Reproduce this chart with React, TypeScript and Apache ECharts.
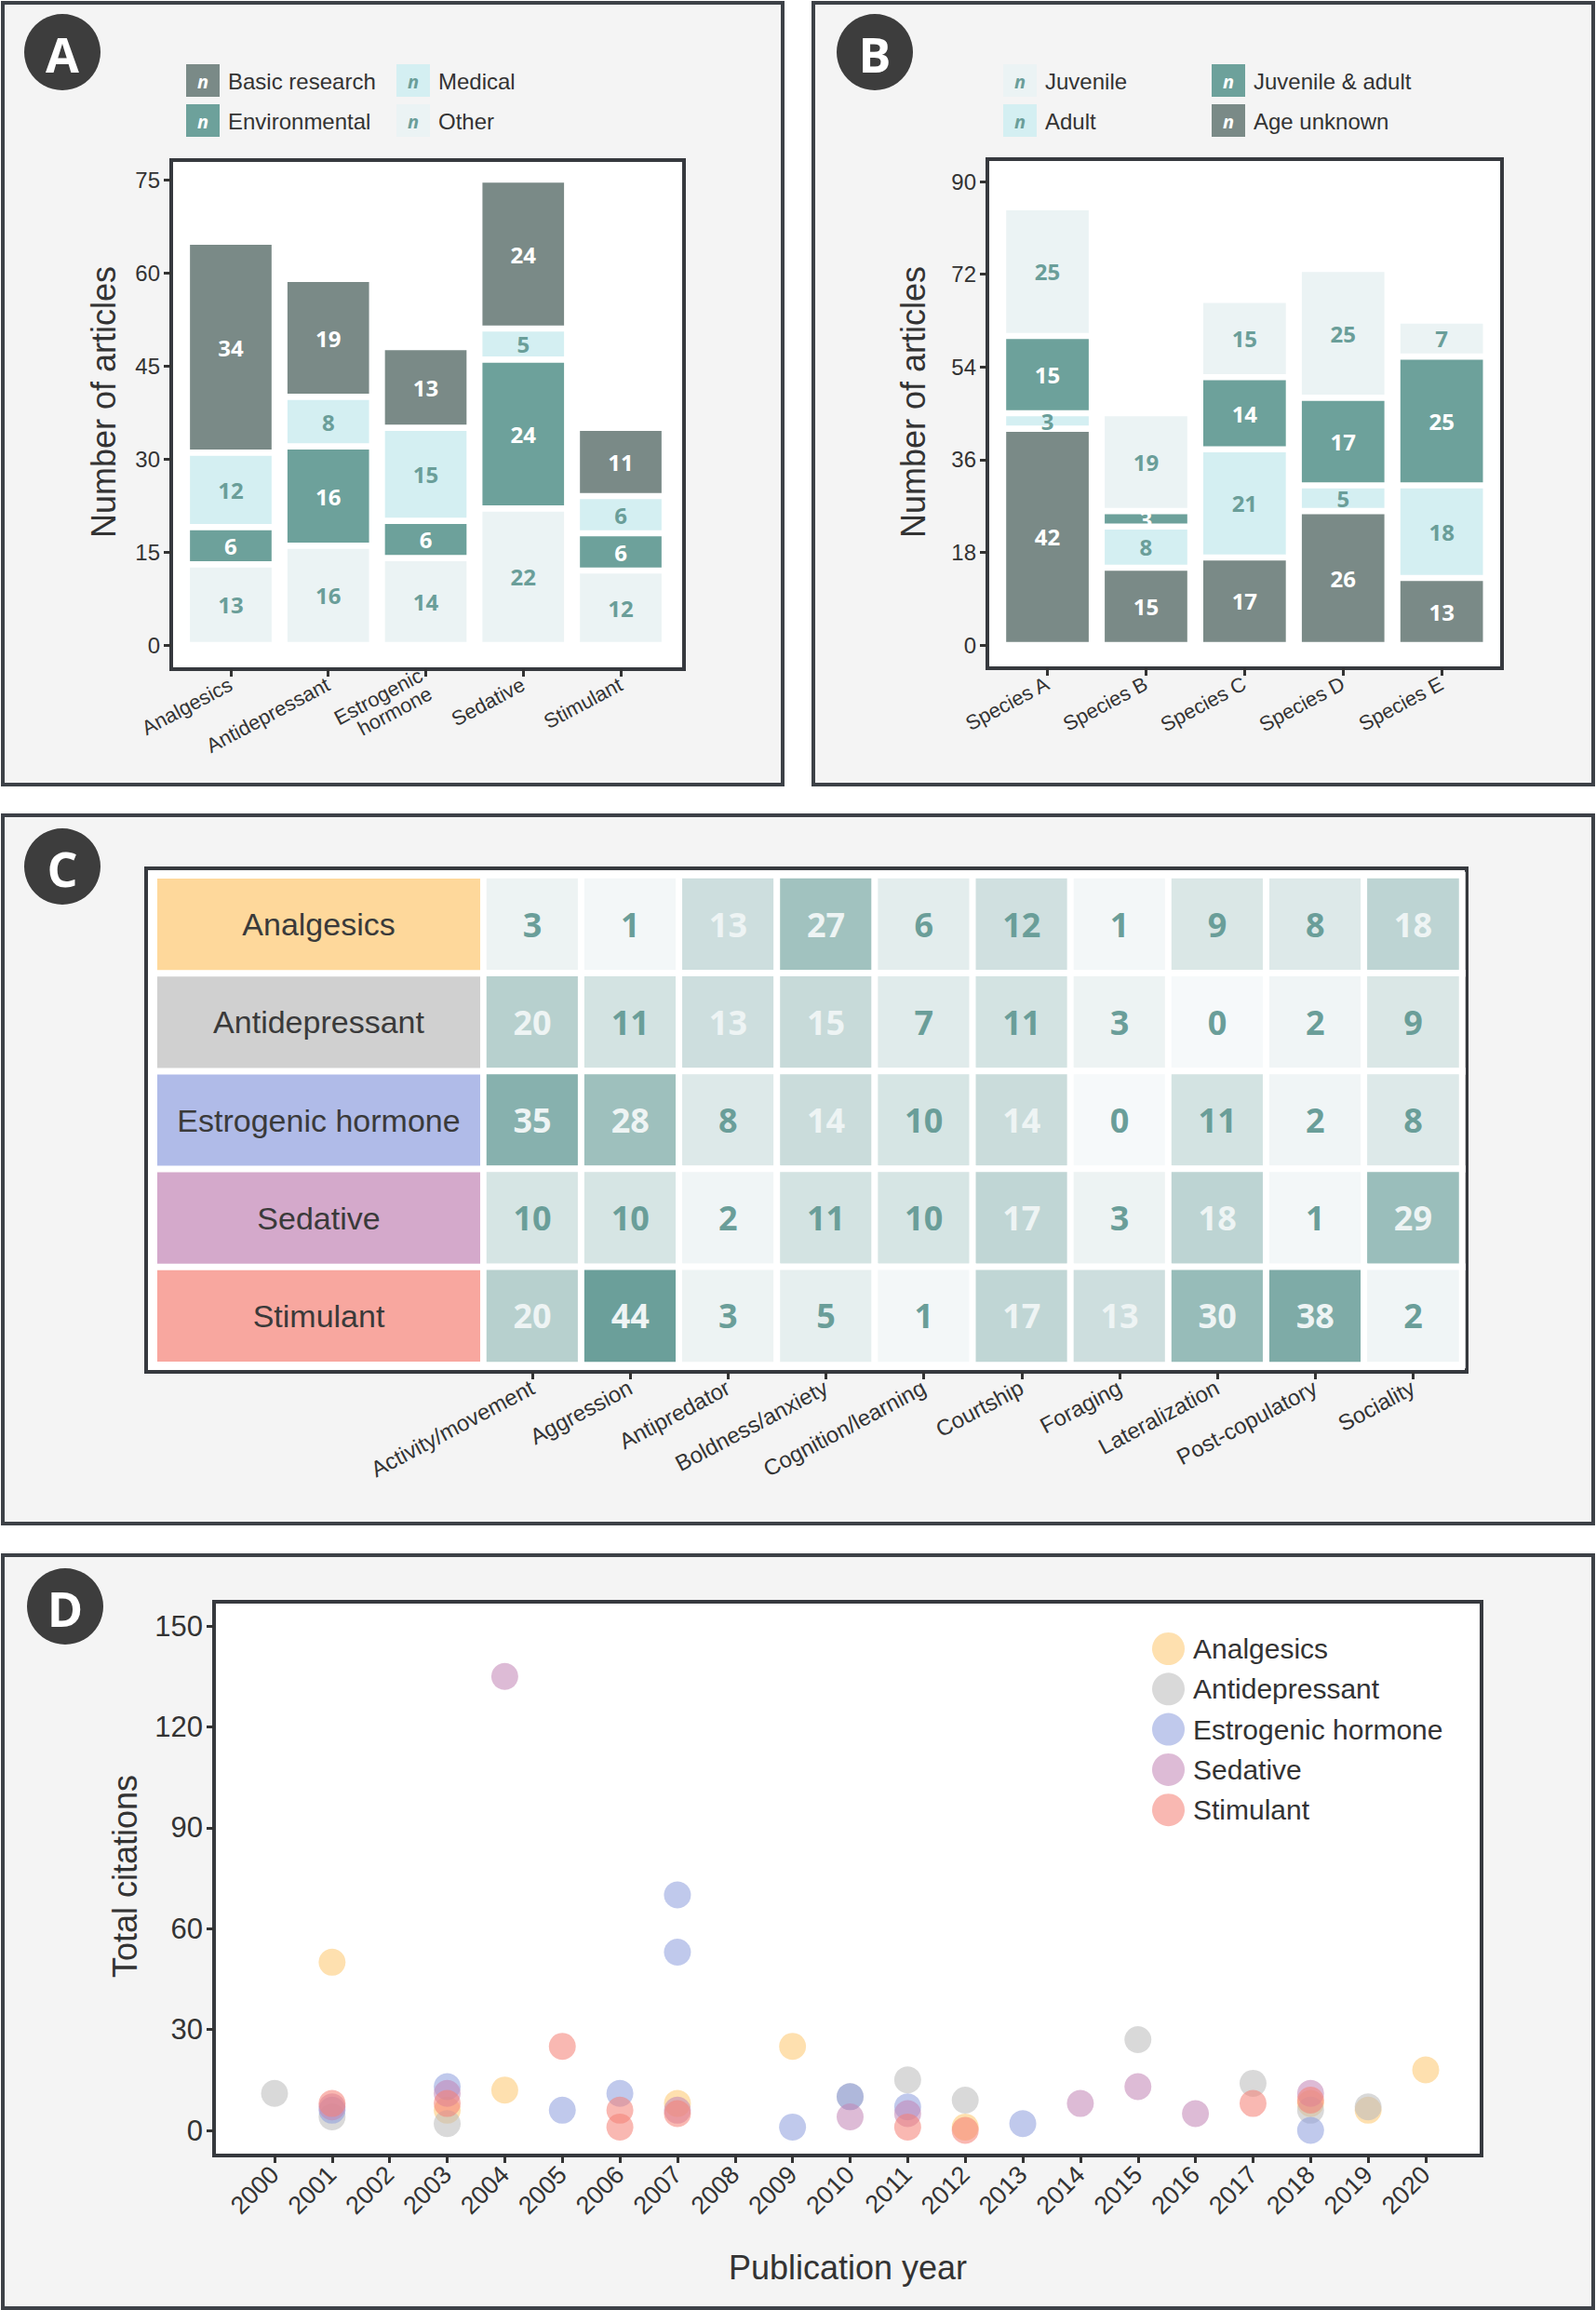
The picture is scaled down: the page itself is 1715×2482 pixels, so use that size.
import React, { useEffect, useRef } from "react";
import * as echarts from "echarts";

// ---------- DATA ----------
const drugClasses = ["Analgesics", "Antidepressant", "Estrogenic hormone", "Sedative", "Stimulant"];
const drugTickLabels = ["Analgesics", "Antidepressant", "Estrogenic\nhormone", "Sedative", "Stimulant"];

// Panel A (stack bottom -> top)
const otherA = [13, 16, 14, 22, 12];
const environmentalA = [6, 16, 6, 24, 6];
const medicalA = [12, 8, 15, 5, 6];
const basicResearchA = [34, 19, 13, 24, 11];

// Panel B (stack bottom -> top)
const speciesNames = ["Species A", "Species B", "Species C", "Species D", "Species E"];
const ageUnknownB = [42, 15, 17, 26, 13];
const adultB = [3, 8, 21, 5, 18];
const juvenileAdultB = [15, 3, 14, 17, 25];
const juvenileB = [25, 19, 15, 25, 7];

// Panel C
const behaviours = [
  "Activity/movement", "Aggression", "Antipredator", "Boldness/anxiety", "Cognition/learning",
  "Courtship", "Foraging", "Lateralization", "Post-copulatory", "Sociality",
];
const heatAnalgesics = [3, 1, 13, 27, 6, 12, 1, 9, 8, 18];
const heatAntidepressant = [20, 11, 13, 15, 7, 11, 3, 0, 2, 9];
const heatEstrogenic = [35, 28, 8, 14, 10, 14, 0, 11, 2, 8];
const heatSedative = [10, 10, 2, 11, 10, 17, 3, 18, 1, 29];
const heatStimulant = [20, 44, 3, 5, 1, 17, 13, 30, 38, 2];

// Panel D: [year, total citations]
const citAnalgesics = [[2001, 50], [2003, 6], [2004, 12], [2007, 8], [2009, 25], [2012, 1], [2018, 8], [2019, 6], [2020, 18]];
const citAntidepressant = [[2000, 11], [2001, 4], [2003, 2], [2010, 10], [2011, 15], [2012, 9], [2015, 27], [2017, 14], [2018, 6], [2019, 7]];
const citEstrogenic = [[2001, 6], [2003, 13], [2005, 6], [2006, 11], [2007, 70], [2007, 53], [2009, 1], [2010, 10], [2011, 7], [2013, 2], [2018, 0]];
const citSedative = [[2001, 7], [2003, 11], [2004, 135], [2007, 6], [2010, 4], [2011, 5], [2014, 8], [2015, 13], [2016, 5], [2018, 11]];
const citStimulant = [[2001, 8], [2003, 8], [2005, 25], [2006, 6], [2006, 1], [2007, 5], [2011, 1], [2012, 0], [2017, 8], [2018, 9]];

// ---------- STYLE ----------
const SANS = "'Liberation Sans', Arial, Helvetica, sans-serif";
const BOLD = "'Open Sans', 'Liberation Sans', sans-serif";
const C_DARK = "#7a8a87";
const C_TEAL = "#6da19b";
const C_CYAN = "#d4eff2";
const C_PALE = "#ebf3f4";
const TXT_TEAL = "#6a9e99";
const INK = "#333333";
const drugFill = ["#fed89b", "#d0d0d0", "#b0bbe8", "#d4a9cb", "#f8a79f"];
const drugPoint = [
  "rgba(253,199,112,0.7)",
  "rgba(188,188,188,0.7)",
  "rgba(142,158,222,0.7)",
  "rgba(194,134,181,0.7)",
  "rgba(245,129,118,0.7)",
];

const tickStyle = { show: true, length: 8, lineStyle: { color: INK, width: 3 } };

function barSeries(name: string, data: number[], color: string, labelColor: string, idx: number, stack: string) {
  return {
    type: "bar",
    name,
    xAxisIndex: idx,
    yAxisIndex: idx,
    stack,
    data,
    barWidth: "90%",
    itemStyle: { color, borderColor: "#ffffff", borderWidth: 3.3 },
    label: {
      show: true,
      position: "inside",
      color: labelColor,
      fontFamily: BOLD,
      fontWeight: "bold",
      fontSize: 24,
    },
    emphasis: { disabled: true },
  };
}

function legendKey(x: number, y: number, color: string, nColor: string, label: string) {
  return [
    { type: "rect", z: 5, shape: { x, y, width: 36, height: 35 }, style: { fill: color } },
    {
      type: "text", z: 6, x: x + 18, y: y + 18,
      style: { text: "n", fill: nColor, font: `italic bold 20px ${BOLD}`, align: "center", verticalAlign: "middle", textAlign: "center", textVerticalAlign: "middle" },
    },
    {
      type: "text", z: 6, x: x + 45, y: y + 18,
      style: { text: label, fill: INK, font: `24px ${SANS}`, align: "left", verticalAlign: "middle", textAlign: "left", textVerticalAlign: "middle" },
    },
  ];
}

function panelLetter(cx: number, cy: number, letter: string) {
  return [
    { type: "circle", z: 5, shape: { cx, cy, r: 41 }, style: { fill: "#3d3d3d" } },
    {
      type: "text", z: 6, x: cx, y: cy + 1,
      style: { text: letter, fill: "#ffffff", font: `bold 52px ${BOLD}`, align: "center", verticalAlign: "middle", textAlign: "center", textVerticalAlign: "middle" },
    },
  ];
}

function vTitle(x: number, y: number, text: string) {
  return {
    type: "text", z: 6, x, y, rotation: Math.PI / 2,
    style: { text, fill: INK, font: `36px ${SANS}`, align: "center", verticalAlign: "middle", textAlign: "center", textVerticalAlign: "middle" },
  };
}

function panelBox(x: number, y: number, w: number, h: number) {
  return { type: "rect", z: -10, shape: { x, y, width: w, height: h }, style: { fill: "#f4f4f4", stroke: "#3d4147", lineWidth: 4 } };
}
function frameBox(x: number, y: number, w: number, h: number) {
  return { type: "rect", z: -5, shape: { x, y, width: w, height: h }, style: { fill: "#ffffff", stroke: "#36393e", lineWidth: 4 } };
}

function buildOption() {
  const heatRows = [heatAnalgesics, heatAntidepressant, heatEstrogenic, heatSedative, heatStimulant];
  const heatData = heatRows.flatMap((row, r) =>
    row.map((v, c) => ({ value: [c, r, v], label: { color: v >= 13 ? "#eef4f4" : TXT_TEAL } }))
  );
  const citations = [citAnalgesics, citAntidepressant, citEstrogenic, citSedative, citStimulant];

  const catX = (idx: number, data: string[], offset: number, fontSize: number) => ({
    gridIndex: idx,
    type: "category",
    data,
    offset,
    axisLine: { show: false, onZero: false },
    axisTick: { ...tickStyle, alignWithLabel: true },
    axisLabel: { rotate: 28, fontSize, color: INK, fontFamily: SANS, margin: 15, interval: 0 },
    splitLine: { show: false },
  });
  const valY = (idx: number, max: number, interval: number, offset: number, fontSize: number) => ({
    gridIndex: idx,
    type: "value",
    min: 0,
    max,
    interval,
    offset,
    axisLine: { show: false, onZero: false },
    axisTick: tickStyle,
    axisLabel: { fontSize, color: INK, fontFamily: SANS, margin: 12 },
    splitLine: { show: false },
  });

  const series: any[] = [
    barSeries("Other", otherA, C_PALE, TXT_TEAL, 0, "a"),
    barSeries("Environmental", environmentalA, C_TEAL, "#ffffff", 0, "a"),
    barSeries("Medical", medicalA, C_CYAN, TXT_TEAL, 0, "a"),
    barSeries("Basic research", basicResearchA, C_DARK, "#ffffff", 0, "a"),
    barSeries("Age unknown", ageUnknownB, C_DARK, "#ffffff", 1, "b"),
    barSeries("Adult", adultB, C_CYAN, TXT_TEAL, 1, "b"),
    barSeries("Juvenile & adult", juvenileAdultB, C_TEAL, "#ffffff", 1, "b"),
    barSeries("Juvenile", juvenileB, C_PALE, TXT_TEAL, 1, "b"),
    {
      type: "bar",
      name: "rowLabels",
      xAxisIndex: 2,
      yAxisIndex: 2,
      data: drugClasses.map((d, i) => ({ value: 1, itemStyle: { color: drugFill[i] } })),
      barWidth: "100%",
      itemStyle: { borderColor: "#ffffff", borderWidth: 3.5 },
      label: {
        show: true,
        position: "inside",
        formatter: (p: any) => p.name,
        color: "#3a3a3a",
        fontFamily: SANS,
        fontSize: 34,
      },
      emphasis: { disabled: true },
    },
    {
      type: "heatmap",
      name: "heat",
      xAxisIndex: 3,
      yAxisIndex: 3,
      data: heatData,
      itemStyle: { borderColor: "#ffffff", borderWidth: 7 },
      label: {
        show: true,
        formatter: (p: any) => String(p.value[2]),
        fontFamily: BOLD,
        fontWeight: "bold",
        fontSize: 36,
      },
      emphasis: { disabled: true },
    },
  ];
  const heatIndex = series.length - 1;
  citations.forEach((pts, i) => {
    series.push({
      type: "scatter",
      name: drugClasses[i],
      xAxisIndex: 4,
      yAxisIndex: 4,
      data: pts,
      symbol: "circle",
      symbolSize: 29,
      clip: false,
      itemStyle: { color: drugPoint[i] },
      emphasis: { disabled: true },
    });
  });

  const graphic: any[] = [
    panelBox(3, 3, 838, 840),
    panelBox(874, 3, 838, 840),
    panelBox(3, 876, 1709, 761),
    panelBox(3, 1671, 1709, 809),
    frameBox(184, 172, 551, 547),
    frameBox(1061, 171, 553, 547),
    frameBox(157, 933, 1419, 541),
    frameBox(230, 1721, 1362, 595),
    ...panelLetter(67, 56, "A"),
    ...panelLetter(940, 56, "B"),
    ...panelLetter(67, 931, "C"),
    ...panelLetter(70, 1726, "D"),
    ...legendKey(200, 69, C_DARK, "#ffffff", "Basic research"),
    ...legendKey(426, 69, C_CYAN, TXT_TEAL, "Medical"),
    ...legendKey(200, 112, C_TEAL, "#ffffff", "Environmental"),
    ...legendKey(426, 112, C_PALE, TXT_TEAL, "Other"),
    ...legendKey(1078, 69, C_PALE, TXT_TEAL, "Juvenile"),
    ...legendKey(1302, 69, C_TEAL, "#ffffff", "Juvenile & adult"),
    ...legendKey(1078, 112, C_CYAN, TXT_TEAL, "Adult"),
    ...legendKey(1302, 112, C_DARK, "#ffffff", "Age unknown"),
    vTitle(111, 432, "Number of articles"),
    vTitle(981, 432, "Number of articles"),
    vTitle(134, 2016, "Total citations"),
    {
      type: "text", z: 6, x: 911, y: 2436,
      style: { text: "Publication year", fill: INK, font: `36px ${SANS}`, align: "center", verticalAlign: "middle", textAlign: "center", textVerticalAlign: "middle" },
    },
  ];

  return {
    animation: false,
    backgroundColor: "#ffffff",
    grid: [
      { left: 195.6, width: 523.8, top: 193, height: 500 },
      { left: 1072.6, width: 529.5, top: 195, height: 498 },
      { left: 165.5, width: 354, top: 940.4, height: 526.2 },
      { left: 519.5, width: 1051.5, top: 940.4, height: 526.2 },
      { left: 295, width: 1237, top: 1747, height: 542 },
    ],
    xAxis: [
      catX(0, drugTickLabels, 26, 22),
      catX(1, speciesNames, 25, 22),
      { gridIndex: 2, type: "value", min: 0, max: 1, show: false },
      catX(3, behaviours, 7.4, 24),
      {
        gridIndex: 4,
        type: "value",
        min: 2000,
        max: 2020,
        interval: 1,
        offset: 27,
        axisLine: { show: false, onZero: false },
        axisTick: tickStyle,
        axisLabel: { rotate: 45, fontSize: 27, color: INK, fontFamily: SANS, margin: 16, formatter: (v: number) => String(v) },
        splitLine: { show: false },
      },
    ],
    yAxis: [
      valY(0, 75, 15, 11.6, 24),
      valY(1, 90, 18, 11.6, 24),
      { gridIndex: 2, type: "category", data: drugClasses, inverse: true, show: false },
      { gridIndex: 3, type: "category", data: drugClasses, inverse: true, show: false },
      valY(4, 150, 30, 65, 31),
    ],
    visualMap: {
      show: false,
      type: "continuous",
      seriesIndex: heatIndex,
      dimension: 2,
      min: 0,
      max: 44,
      inRange: { color: ["#f6f9fa", "#6b9f9a"] },
    },
    legend: {
      data: drugClasses,
      orient: "vertical",
      left: 1233,
      top: 1749,
      itemWidth: 35,
      itemHeight: 35,
      itemGap: 8.3,
      icon: "circle",
      selectedMode: false,
      textStyle: { fontSize: 30, color: INK, fontFamily: SANS, padding: [0, 0, 0, 4] },
    },
    graphic,
    series,
  };
}

export default function App() {
  const ref = useRef<HTMLDivElement>(null);
  useEffect(() => {
    if (!ref.current) return;
    const chart = echarts.init(ref.current, null, { renderer: "svg" });
    chart.setOption(buildOption() as any);
    return () => chart.dispose();
  }, []);
  return (
    <div
      ref={ref}
      style={{ position: "absolute", left: 0, top: 0, width: 1715, height: 2482, background: "#ffffff" }}
    />
  );
}
